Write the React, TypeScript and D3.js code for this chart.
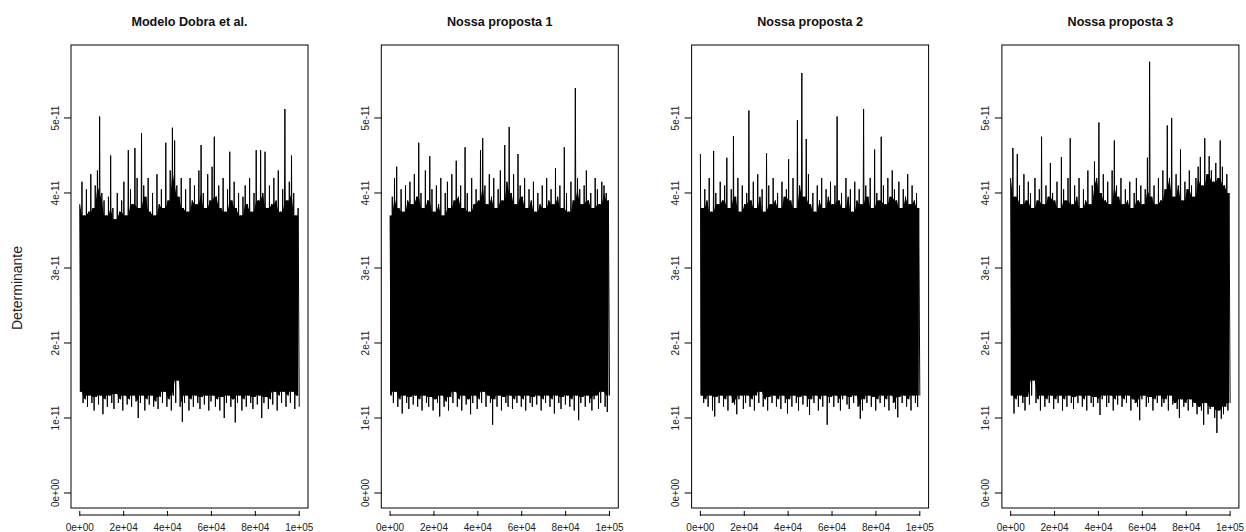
// App.tsx
// trace plots of the determinant, one panel per model
import * as d3 from 'd3';
import React, { useRef, useEffect } from 'react';

const titles = ["Modelo Dobra et al.", "Nossa proposta 1", "Nossa proposta 2", "Nossa proposta 3"];
const yTicks = [0, 1, 2, 3, 4, 5]; // in units of 1e-11
const yTickLabels = ["0e+00", "1e-11", "2e-11", "3e-11", "4e-11", "5e-11"];
const xTicks = [0, 20000, 40000, 60000, 80000, 100000];
const xTickLabels = ["0e+00", "2e+04", "4e+04", "6e+04", "8e+04", "1e+05"];

// upper / lower envelope of each chain (units of 1e-11), 100 samples over the 1e5 iterations
const dobraHigh = [
  3.85, 4.15, 3.7, 4.05, 3.75, 4.25, 3.8, 4.1, 4.3, 5.02,
  4.0, 3.9, 3.7, 3.95, 4.5, 3.8, 3.65, 4.0, 3.75, 3.9,
  4.15, 3.7, 4.57, 4.05, 3.85, 4.6, 4.2, 3.8, 4.8, 4.1,
  3.95, 4.2, 3.75, 4.0, 3.7, 4.25, 3.85, 4.05, 3.8, 4.67,
  3.9, 4.3, 4.87, 4.7, 4.1, 3.95, 4.2, 3.8, 4.05, 3.75,
  4.2, 3.9, 4.1, 3.85, 4.3, 4.64, 4.0, 3.8, 4.25, 3.9,
  4.35, 4.75, 3.95, 4.1, 3.8, 4.2, 3.75, 4.05, 4.55, 3.9,
  4.15, 3.8, 4.0, 3.7, 3.95, 4.1, 3.85, 4.2, 3.75, 4.0,
  4.57, 3.9, 4.57, 4.0, 4.55, 3.8, 4.1, 3.85, 4.2, 3.9,
  4.3, 3.75, 4.05, 5.12, 3.9, 4.15, 4.5, 4.0, 3.7, 3.8
];
const dobraLow = [
  1.35, 1.2, 1.25, 1.15, 1.3, 1.2, 1.1, 1.28, 1.18, 1.3,
  1.05, 1.25, 1.15, 1.3, 1.2, 1.12, 1.32, 1.2, 1.25, 1.1,
  1.3, 1.18, 1.25, 1.15, 1.3, 1.22, 1.0, 1.2, 1.3, 1.1,
  1.25, 1.18, 1.3, 1.15, 1.22, 1.12, 1.28, 1.2, 1.35, 1.15,
  1.25, 1.1, 1.3, 1.2, 1.5, 1.15, 0.95, 1.2, 1.3, 1.1,
  1.25, 1.15, 1.3, 1.2, 1.12, 1.28, 1.18, 1.3, 1.1, 1.22,
  1.3, 1.15, 1.25, 1.1, 1.28, 1.0, 1.2, 1.3, 1.15, 1.25,
  0.94, 1.2, 1.3, 1.1, 1.25, 1.15, 1.3, 1.2, 1.12, 1.28,
  1.18, 1.3, 1.0, 1.2, 1.28, 1.12, 1.25, 1.18, 1.35, 1.1,
  1.3, 1.2, 1.35, 1.15, 1.3, 1.2, 1.35, 1.12, 1.3, 1.15
];
const prop1High = [
  3.7, 3.95, 4.2, 4.35, 3.8, 4.05, 3.75, 4.1, 3.9, 4.15,
  3.85, 4.25, 3.95, 4.67, 4.0, 3.8, 4.3, 3.9, 4.49, 4.05,
  3.75, 4.1, 3.85, 4.2, 3.7, 4.0, 4.15, 3.8, 4.25, 3.9,
  4.43, 3.95, 4.1, 3.8, 4.61, 4.0, 3.75, 4.2, 3.85, 4.05,
  3.9, 4.57, 4.73, 4.1, 3.85, 4.25, 3.95, 4.2, 3.8, 4.05,
  4.3, 3.9, 4.64, 4.15, 4.88, 4.0, 4.25, 3.85, 4.52, 4.1,
  3.95, 4.2, 3.8, 4.05, 3.9, 4.15, 3.75, 4.0, 3.85, 4.1,
  3.8, 4.2, 3.9, 4.05, 3.85, 4.33, 3.95, 4.1, 3.8, 4.61,
  4.0, 3.75, 4.15, 3.9, 5.4, 4.2, 4.05, 3.85, 4.1, 4.3,
  3.9, 4.0, 3.8, 4.2, 4.05, 3.85, 4.15, 4.1, 4.0, 3.9
];
const prop1Low = [
  1.3, 1.2, 1.35, 1.15, 1.25, 1.06, 1.3, 1.2, 1.12, 1.28,
  1.18, 1.3, 1.15, 1.25, 1.1, 1.3, 1.2, 1.15, 1.28, 1.1,
  1.25, 1.2, 1.02, 1.3, 1.15, 1.22, 1.1, 1.28, 1.2, 1.35,
  1.15, 1.25, 1.1, 1.3, 1.18, 1.25, 1.05, 1.2, 1.3, 1.12,
  1.25, 1.2, 1.35, 1.15, 1.3, 1.2, 0.91, 1.25, 1.15, 1.3,
  1.1, 1.28, 1.2, 1.15, 1.3, 1.12, 1.25, 1.2, 1.3, 1.15,
  1.25, 1.1, 1.3, 1.2, 1.15, 1.28, 1.18, 1.3, 1.1, 1.25,
  1.2, 1.3, 1.15, 1.25, 1.06, 1.3, 1.2, 1.12, 1.28, 1.18,
  1.3, 1.15, 1.25, 1.1, 1.3, 0.97, 1.2, 1.28, 1.15, 1.3,
  1.2, 1.1, 1.25, 1.3, 1.12, 1.2, 1.35, 1.15, 1.08, 1.3
];
const prop2High = [
  4.52, 3.8, 4.05, 3.9, 4.2, 3.75, 4.56, 4.0, 3.85, 4.15,
  3.9, 4.1, 4.47, 3.8, 4.05, 4.76, 3.95, 4.2, 3.75, 4.1,
  3.85, 4.0, 5.1, 3.9, 4.15, 3.8, 4.25, 3.95, 4.05, 3.75,
  4.53, 4.1, 3.85, 4.2, 3.9, 4.0, 3.8, 4.15, 3.95, 4.05,
  4.45, 3.9, 4.2, 3.8, 4.97, 4.1, 5.6, 3.95, 4.72, 4.25,
  3.85, 4.0, 3.75, 4.1, 3.9, 4.2, 3.8, 4.05, 3.95, 4.15,
  3.85, 4.1, 5.02, 3.9, 4.0, 3.8, 4.2, 3.95, 4.05, 3.75,
  4.15, 3.9, 4.05, 3.85, 5.12, 4.1, 3.95, 4.2, 3.8, 4.58,
  4.0, 3.9, 4.75, 4.1, 3.85, 4.2, 3.95, 4.3, 4.05, 3.9,
  4.15, 3.8, 4.05, 3.95, 4.25, 3.85, 4.1, 3.9, 4.0, 3.8
];
const prop2Low = [
  1.3, 1.2, 1.25, 1.15, 1.3, 1.1, 1.02, 1.28, 1.2, 1.3,
  1.15, 1.25, 1.1, 1.3, 1.2, 1.18, 1.05, 1.25, 1.3, 1.12,
  1.2, 1.3, 1.15, 1.25, 1.1, 1.3, 1.2, 1.35, 1.15, 1.25,
  1.1, 1.28, 1.2, 1.3, 1.15, 1.25, 1.12, 1.3, 1.2, 1.06,
  1.25, 1.15, 1.3, 1.2, 1.1, 1.28, 1.18, 1.3, 1.15, 1.04,
  1.25, 1.2, 1.3, 1.1, 1.25, 1.15, 1.3, 0.91, 1.2, 1.28,
  1.15, 1.3, 1.2, 1.1, 1.25, 1.3, 1.18, 1.12, 1.28, 1.2,
  1.3, 1.15, 0.99, 1.1, 1.25, 1.2, 1.3, 1.15, 1.28, 1.1,
  1.25, 1.2, 1.3, 1.15, 1.25, 1.1, 1.3, 1.2, 1.12, 1.01,
  1.28, 1.2, 1.3, 1.15, 1.25, 1.1, 1.3, 1.2, 1.15, 1.3
];
const prop3High = [
  4.2, 4.6, 3.95, 4.52, 4.1, 3.85, 4.25, 3.9, 4.15, 4.0,
  3.8, 4.2, 3.9, 4.05, 4.75, 3.85, 4.1, 3.95, 4.4, 4.0,
  3.9, 4.15, 3.8, 4.48, 4.05, 3.9, 4.2, 4.73, 3.85, 4.1,
  3.95, 4.2, 3.8, 4.05, 3.9, 4.3, 3.85, 4.1, 4.42, 4.2,
  4.94, 4.0, 4.25, 3.9, 4.15, 3.85, 4.3, 4.7, 4.1, 3.95,
  4.2, 3.85, 4.05, 3.9, 4.15, 3.8, 4.0, 4.2, 3.9, 4.1,
  3.85, 4.05, 4.47, 5.75, 3.95, 4.1, 3.85, 4.2, 3.9, 4.3,
  4.05, 4.9, 4.2, 5.0, 3.95, 4.25, 4.1, 4.58, 3.9, 4.15,
  4.05, 4.3, 4.1, 3.95, 4.2, 4.35, 4.48, 4.1, 4.73, 4.25,
  4.49, 4.3, 4.15, 4.4, 4.2, 4.7, 4.35, 4.1, 4.25, 4.0
];
const prop3Low = [
  1.3, 1.06, 1.25, 1.15, 1.3, 1.2, 1.1, 1.28, 1.18, 1.3,
  1.5, 1.2, 1.25, 1.1, 1.3, 1.15, 1.25, 1.2, 1.3, 1.12,
  1.25, 1.2, 1.3, 1.1, 1.25, 1.15, 1.3, 1.2, 1.12, 1.28,
  1.2, 1.3, 1.15, 1.25, 1.1, 1.3, 1.2, 1.15, 1.28, 1.2,
  1.04, 1.25, 1.3, 1.15, 1.2, 1.3, 1.1, 1.25, 1.18, 1.3,
  1.15, 1.25, 1.2, 1.3, 1.1, 1.25, 1.2, 1.15, 0.97, 1.25,
  1.3, 1.15, 1.2, 1.28, 1.1, 1.25, 1.2, 1.3, 1.15, 1.2,
  1.25, 1.1, 1.3, 1.18, 1.2, 1.12, 1.0, 1.25, 1.15, 1.2,
  1.1, 1.25, 1.15, 1.2, 1.05, 1.15, 1.1, 0.91, 1.2, 1.05,
  1.12, 1.15, 1.0, 0.8, 1.1, 0.99, 1.05, 1.15, 1.1, 1.2
];

const highs = [dobraHigh, prop1High, prop2High, prop3High];
const lows = [dobraLow, prop1Low, prop2Low, prop3Low];

function App() {
  const ref = useRef(null);
  const width = 1246, height = 532;

  useEffect(() => {
    const svg = d3.select(ref.current);
    svg.selectAll("*").remove();
    const font = "'Liberation Sans', Arial, sans-serif";

    const panelW = 237, top = 45, bottom = 508;
    const yScale = d3.scaleLinear().domain([-0.2, 5.973]).range([bottom, top]);

    svg.append("text")
      .attr("transform", "translate(17,288) rotate(-90)")
      .attr("text-anchor", "middle")
      .attr("dominant-baseline", "central")
      .attr("font-family", font)
      .attr("font-size", 14)
      .attr("fill", "#222")
      .text("Determinante");

    titles.forEach((title, p) => {
      const left = 71 + p * 310.3;
      const xScale = d3.scaleLinear().domain([-4000, 104000]).range([left, left + panelW]);
      const g = svg.append("g");

      const hi = highs[p], lo = lows[p];
      const n = hi.length * 2;
      const step = 100000 / (n - 1);

      // solid core: between the lowest neighbouring peak and the highest neighbouring trough
      const core = hi.map((h, j) => {
        const a = Math.max(0, j - 1), b = Math.min(hi.length - 1, j + 1);
        return {
          it: 2 * j * step,
          top: Math.min(hi[a], h, hi[b]),
          bot: Math.max(lo[a], lo[j], lo[b])
        };
      });
      const area = d3.area()
        .x(d => xScale(d.it))
        .y0(d => yScale(d.bot))
        .y1(d => yScale(d.top));
      g.append("path")
        .attr("d", area(core))
        .attr("fill", "black");

      // the zigzag of the chain itself: hi, lo, hi, lo ...
      const pts = [];
      for (let k = 0; k < n; k++) {
        const j = Math.floor(k / 2);
        pts.push([k * step, k % 2 === 0 ? hi[j] : lo[j]]);
      }
      const line = d3.line().x(d => xScale(d[0])).y(d => yScale(d[1]));
      g.append("path")
        .attr("d", line(pts))
        .attr("fill", "none")
        .attr("stroke", "black")
        .attr("stroke-width", 1)
        .attr("stroke-linejoin", "bevel");

      g.append("rect")
        .attr("x", left).attr("y", top)
        .attr("width", panelW).attr("height", bottom - top)
        .attr("fill", "none").attr("stroke", "black").attr("stroke-width", 1);

      g.append("text")
        .attr("x", left + panelW / 2).attr("y", 26)
        .attr("text-anchor", "middle")
        .attr("font-family", font)
        .attr("font-weight", "bold")
        .attr("font-size", 12.6)
        .attr("fill", "#111")
        .text(title);

      // y axis
      yTicks.forEach((t, i) => {
        g.append("line")
          .attr("x1", left - 7).attr("x2", left)
          .attr("y1", yScale(t)).attr("y2", yScale(t))
          .attr("stroke", "black");
        g.append("text")
          .attr("transform", "translate(" + (left - 16) + "," + yScale(t) + ") rotate(-90)")
          .attr("text-anchor", "middle")
          .attr("dominant-baseline", "central")
          .attr("font-family", font)
          .attr("font-size", 10)
          .attr("fill", "#222")
          .text(yTickLabels[i]);
      });

      // x axis
      g.append("line")
        .attr("x1", xScale(0)).attr("x2", xScale(100000))
        .attr("y1", 515).attr("y2", 515)
        .attr("stroke", "black");
      xTicks.forEach((t, i) => {
        g.append("line")
          .attr("x1", xScale(t)).attr("x2", xScale(t))
          .attr("y1", 511).attr("y2", 516)
          .attr("stroke", "black");
        g.append("text")
          .attr("x", xScale(t)).attr("y", 531)
          .attr("text-anchor", "middle")
          .attr("font-family", font)
          .attr("font-size", 10)
          .attr("fill", "#222")
          .text(xTickLabels[i]);
      });
    });
  }, []);

  return (
    <svg ref={ref} width={width} height={height}
      style={{ position: "absolute", left: 0, top: 0, background: "white" }}>
    </svg>
  );
}

export default App;
